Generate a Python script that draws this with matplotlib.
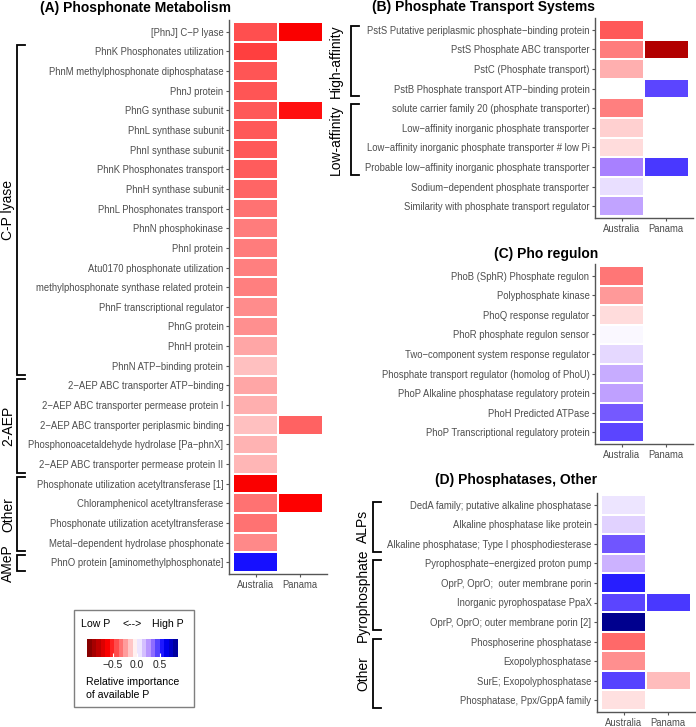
import numpy as np
import matplotlib
matplotlib.use("Agg")
import matplotlib.pyplot as plt
from matplotlib.colors import LinearSegmentedColormap, Normalize
from matplotlib.patches import Rectangle

plt.rcParams['font.family'] = ['Liberation Sans', 'DejaVu Sans']

nan = np.nan
sites = ['Australia', 'Panama']

# (A) Phosphonate Metabolism
a_genes = ['[PhnJ] C−P lyase', 'PhnK Phosphonates utilization',
           'PhnM methylphosphonate diphosphatase', 'PhnJ protein',
           'PhnG synthase subunit', 'PhnL synthase subunit', 'PhnI synthase subunit',
           'PhnK Phosphonates transport', 'PhnH synthase subunit',
           'PhnL Phosphonates transport', 'PhnN phosphokinase', 'PhnI protein',
           'Atu0170 phosphonate utilization', 'methylphosphonate synthase related protein',
           'PhnF transcriptional regulator', 'PhnG protein', 'PhnH protein',
           'PhnN ATP−binding protein', '2−AEP ABC transporter ATP−binding',
           '2−AEP ABC transporter permease protein I',
           '2−AEP ABC transporter periplasmic binding',
           'Phosphonoacetaldehyde hydrolase [Pa−phnX]',
           '2−AEP ABC transporter permease protein II',
           'Phosphonate utilization acetyltransferase [1]',
           'Chloramphenicol acetyltransferase',
           'Phosphonate utilization acetyltransferase',
           'Metal−dependent hydrolase phosphonate',
           'PhnO protein [aminomethylphosphonate]']
a_aus = [-0.41, -0.45, -0.40, -0.40, -0.39, -0.39, -0.39, -0.38, -0.36, -0.33,
         -0.31, -0.31, -0.30, -0.30, -0.27, -0.26, -0.21, -0.15, -0.21, -0.19,
         -0.15, -0.18, -0.17, -0.62, -0.33, -0.33, -0.28, 0.56]
a_pan = [-0.62, nan, nan, nan, -0.56, nan, nan, nan, nan, nan, nan, nan, nan, nan,
         nan, nan, nan, nan, nan, nan, -0.37, nan, nan, nan, -0.60, nan, nan, nan]
a_groups = [('C-P lyase', 2, 18), ('2-AEP', 19, 23), ('Other', 24, 27), ('AMeP', 28, 28)]

# (B) Phosphate Transport Systems
b_genes = ['PstS Putative periplasmic phosphate−binding protein',
           'PstS Phosphate ABC transporter', 'PstC (Phosphate transport)',
           'PstB Phosphate transport ATP−binding protein',
           'solute carrier family 20 (phosphate transporter)',
           'Low−affinity inorganic phosphate transporter',
           'Low−affinity inorganic phosphate transporter # low Pi',
           'Probable low−affinity inorganic phosphate transporter',
           'Sodium−dependent phosphate transporter',
           'Similarity with phosphate transport regulator']
b_aus = [-0.39, -0.31, -0.19, nan, -0.30, -0.11, -0.08, 0.30, 0.08, 0.22]
b_pan = [nan, -0.86, nan, 0.44, nan, nan, nan, 0.47, nan, nan]
b_groups = [('High-affinity', 1, 4), ('Low-affinity', 5, 8)]

# (C) Pho regulon
c_genes = ['PhoB (SphR) Phosphate regulon', 'Polyphosphate kinase',
           'PhoQ response regulator', 'PhoR phosphate regulon sensor',
           'Two−component system response regulator',
           'Phosphate transport regulator (homolog of PhoU)',
           'PhoP Alkaline phosphatase regulatory protein',
           'PhoH Predicted ATPase', 'PhoP Transcriptional regulatory protein']
c_aus = [-0.32, -0.24, -0.08, 0.02, 0.09, 0.20, 0.23, 0.39, 0.44]
c_pan = [nan] * 9

# (D) Phosphatases, Other
d_genes = ['DedA family; putative alkaline phosphatase',
           'Alkaline phosphatase like protein',
           'Alkaline phosphatase; Type I phosphodiesterase',
           'Pyrophosphate−energized proton pump',
           'OprP, OprO;  outer membrane porin',
           'Inorganic pyrophospatase PpaX',
           'OprP, OprO; outer membrane porin [2]',
           'Phosphoserine phosphatase', 'Exopolyphosphatase',
           'SurE; Exopolyphosphatase', 'Phosphatase, Ppx/GppA family']
d_aus = [0.06, 0.11, 0.40, 0.18, 0.53, 0.44, 0.87, -0.35, -0.26, 0.45, -0.07]
d_pan = [nan, nan, nan, nan, nan, 0.47, nan, nan, nan, -0.16, nan]
d_groups = [('ALPs', 1, 3), ('Pyrophosphate', 4, 7), ('Other', 8, 11)]

W, H = 696, 727
fig = plt.figure(figsize=(W / 100, H / 100), dpi=100)

vmin, vmax = -1.05, 0.88
anchors = [(-1.05, '#7a0000'), (-0.6, '#ff0000'), (0.0, '#ffffff'),
           (0.3, '#ab82ff'), (0.6, '#0000ff'), (0.88, '#00008b')]
cmap = LinearSegmentedColormap.from_list(
    'lowhigh', [((v - vmin) / (vmax - vmin), c) for v, c in anchors])
norm = Normalize(vmin, vmax)

# overlay in pixel coordinates for titles, brackets and legend box
ov = fig.add_axes([0, 0, 1, 1])
ov.set_xlim(0, W)
ov.set_ylim(H, 0)
ov.axis('off')

GRAY = '#555555'


def heat(l, t, r, b, genes, aus, pan):
    ax = fig.add_axes([l / W, 1 - b / H, (r - l) / W, (b - t) / H])
    n = len(genes)
    data = np.ma.masked_invalid(np.array([aus, pan], dtype=float).T)
    ax.pcolormesh(np.arange(0.5, 3), np.arange(0.5, n + 1), data, cmap=cmap,
                  norm=norm, edgecolors='white', linewidth=1.2)
    ax.set_xlim(0.4, 2.6)
    ax.set_ylim(n + 0.6, 0.4)
    ax.set_xticks([1, 2], sites)
    ax.set_yticks(np.arange(1, n + 1), genes)
    ax.tick_params(length=2.5, width=0.8, color=GRAY, labelcolor='#4d4d4d',
                   labelsize=6.85, pad=1.5)
    for s in ['top', 'right']:
        ax.spines[s].set_visible(False)
    for s in ['left', 'bottom']:
        ax.spines[s].set_color(GRAY)
        ax.spines[s].set_linewidth(1.0)
    return ax, t, (b - t) / (n + 0.2)


def brackets(panel, groups, xline, xlabel, top_in=0.15, bot_in=0.1):
    t, rowh = panel[1], panel[2]
    for name, r0, r1 in groups:
        y0 = t + (r0 - 0.5 - 0.4 + top_in) * rowh
        y1 = t + (r1 + 0.5 - 0.4 - bot_in) * rowh
        ov.plot([xline + 7.5, xline, xline, xline + 7.5], [y0, y0, y1, y1],
                color='black', lw=1.3, solid_joinstyle='miter')
        ov.text(xlabel, (y0 + y1) / 2, name, rotation=90, ha='center',
                va='center', fontsize=10)


pa = heat(229, 20, 327, 574, a_genes, a_aus, a_pan)
pb = heat(595, 18, 693, 218, b_genes, b_aus, b_pan)
pc = heat(595, 264, 693, 444, c_genes, c_aus, c_pan)
pd = heat(597, 493, 695, 712, d_genes, d_aus, d_pan)

brackets(pa, a_groups, 17, 8, top_in=0.15, bot_in=0.05)
brackets(pb, b_groups, 351, 336, top_in=0.3, bot_in=0.1)
brackets(pd, d_groups, 373, 363, top_in=0.35, bot_in=0.1)

title_kw = dict(fontsize=10, fontweight='bold', ha='center', va='center')
ov.text(136, 8, '(A) Phosphonate Metabolism', **title_kw)
ov.text(483, 7, '(B) Phosphate Transport Systems', **title_kw)
ov.text(546, 254, '(C) Pho regulon', **title_kw)
ov.text(516, 480, '(D) Phosphatases, Other', **title_kw)

# legend
ov.add_patch(Rectangle((74, 610), 120, 97, fill=False, edgecolor='#7f7f7f', lw=1))
lg_kw = dict(fontsize=7.6, va='center')
ov.text(81, 624, 'Low P', **lg_kw)
ov.text(132, 624, '<-->', ha='center', **lg_kw)
ov.text(184, 624, 'High P', ha='right', **lg_kw)
ov.text(86, 682, 'Relative importance', **lg_kw)
ov.text(86, 695, 'of available P', **lg_kw)

cax = fig.add_axes([87 / W, 1 - 657 / H, 91 / W, 18 / H])
edges = np.linspace(vmin, vmax, 21)
mids = (edges[:-1] + edges[1:]) / 2
cax.pcolormesh(edges, [0, 1], mids[None, :], cmap=cmap, norm=norm)
cax.set_xlim(vmin, vmax)
cax.set_yticks([])
cax.set_xticks([-0.5, 0, 0.5], ['−0.5', '0.0', '0.5'])
cax.tick_params(axis='x', direction='in', length=3, color='white', labelsize=7.4,
                pad=2, labelcolor='#222222')
for s in cax.spines.values():
    s.set_visible(False)

fig.savefig('out.png', dpi=100)
